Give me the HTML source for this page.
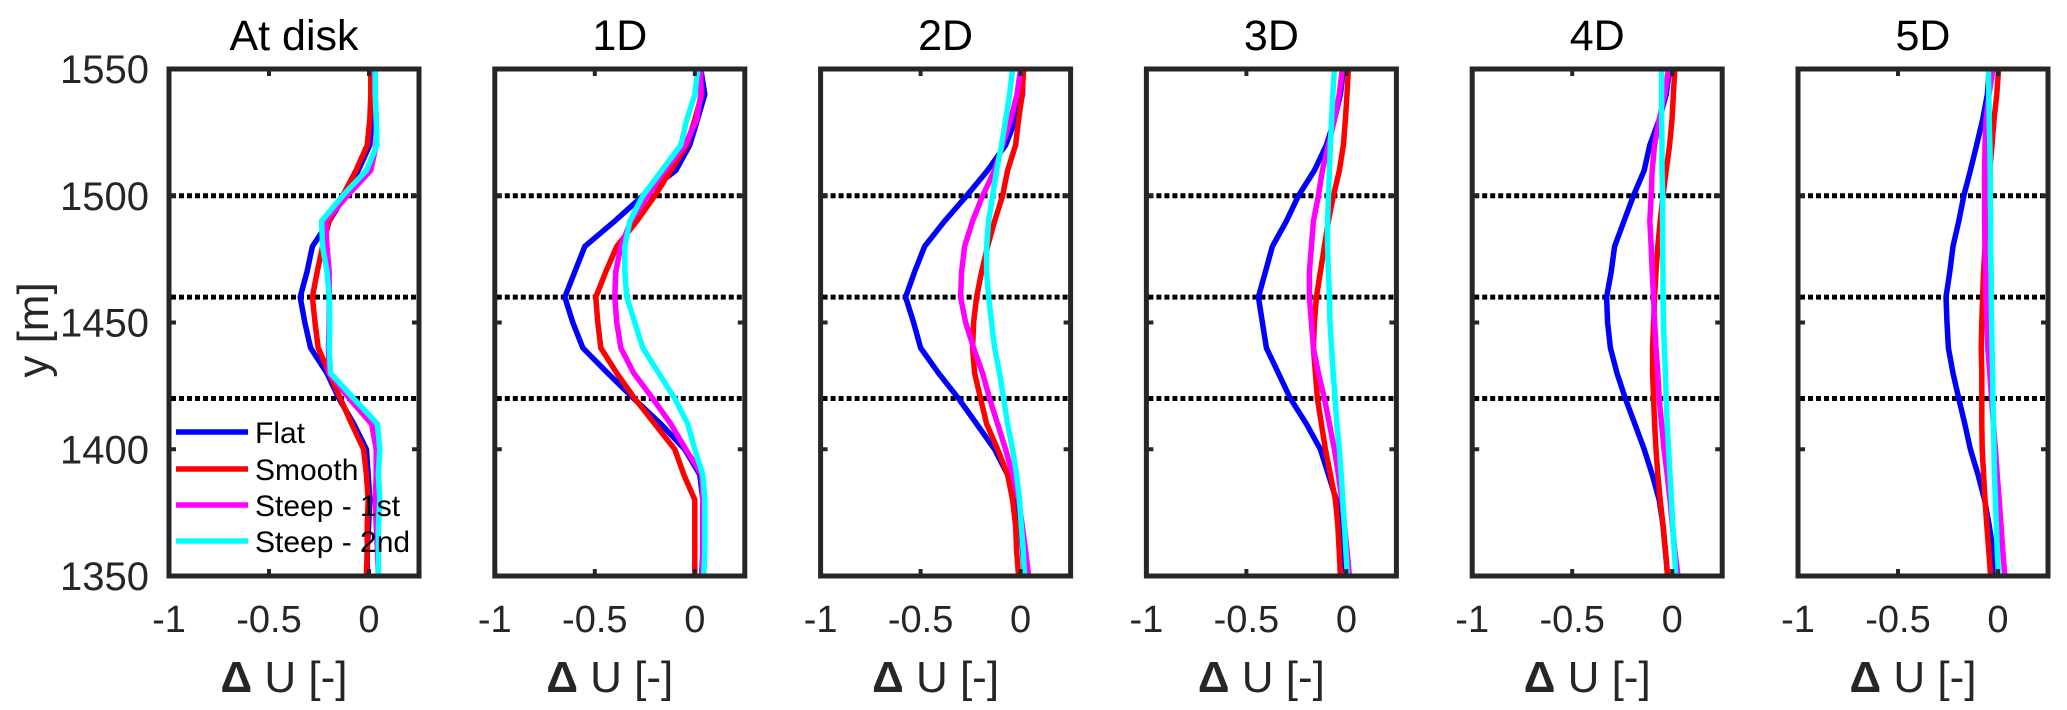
<!DOCTYPE html>
<html><head><meta charset="utf-8"><style>
html,body{margin:0;padding:0;background:#fff;}
svg{display:block;font-family:"Liberation Sans",sans-serif;}
</style></head><body>
<svg id="chart" width="2067" height="710" viewBox="0 0 2067 710" xmlns="http://www.w3.org/2000/svg"></svg>
<script>
const yLevels = [1550,1540,1530,1520,1510,1500,1490,1480,1470,1460,1450,1440,1430,1420,1410,1400,1390,1380,1370,1360,1350];
const panelTitles = ["At disk","1D","2D","3D","4D","5D"];
const seriesNames = ["Flat","Smooth","Steep - 1st","Steep - 2nd"];
const seriesColors = ["#0000ff","#ff0000","#ff00ff","#00ffff"];
const xTicks = [-1,-0.5,0];
const xTickLabels = ["-1","-0.5","0"];
const yTicks = [1350,1400,1450,1500,1550];
const yTickLabels = ["1350","1400","1450","1500","1550"];
const refLines = [1500,1460,1420];

const flat = [
 [0.013,0.013,0.013,0.004,-0.054,-0.121,-0.199,-0.283,-0.31,-0.344,-0.321,-0.292,-0.21,-0.15,-0.076,-0.013,-0.004,0.004,-0.002,-0.009,-0.009],
 [0.03,0.05,0.013,-0.025,-0.095,-0.26,-0.4,-0.55,-0.6,-0.65,-0.61,-0.56,-0.435,-0.305,-0.17,-0.05,0.025,0.04,0.04,0.04,0.035],
 [0.01,0.01,-0.025,-0.075,-0.165,-0.27,-0.38,-0.48,-0.53,-0.575,-0.535,-0.5,-0.41,-0.31,-0.22,-0.13,-0.065,-0.02,0,0.01,0.02],
 [-0.015,-0.03,-0.06,-0.1,-0.16,-0.24,-0.3,-0.37,-0.405,-0.44,-0.42,-0.4,-0.34,-0.28,-0.2,-0.13,-0.09,-0.05,-0.03,-0.015,0],
 [-0.013,-0.03,-0.065,-0.112,-0.14,-0.194,-0.241,-0.288,-0.305,-0.328,-0.323,-0.309,-0.276,-0.234,-0.187,-0.14,-0.1,-0.065,-0.046,-0.034,-0.023],
 [-0.044,-0.053,-0.077,-0.107,-0.138,-0.171,-0.196,-0.225,-0.241,-0.26,-0.255,-0.248,-0.225,-0.196,-0.166,-0.138,-0.1,-0.067,-0.044,-0.025,-0.013]
];
const smooth = [
 [0.009,0.009,0.004,-0.009,-0.065,-0.132,-0.199,-0.232,-0.259,-0.283,-0.27,-0.254,-0.199,-0.143,-0.087,-0.027,-0.013,-0.004,-0.009,-0.009,-0.013],
 [0.025,0.035,0,-0.04,-0.12,-0.2,-0.29,-0.39,-0.445,-0.495,-0.485,-0.47,-0.39,-0.3,-0.2,-0.1,-0.055,0,0,0,0],
 [0.015,0.008,-0.01,-0.025,-0.065,-0.09,-0.13,-0.165,-0.195,-0.22,-0.235,-0.24,-0.23,-0.2,-0.17,-0.115,-0.065,-0.04,-0.025,-0.02,-0.01],
 [0.01,0.003,-0.005,-0.015,-0.035,-0.065,-0.09,-0.11,-0.13,-0.15,-0.16,-0.165,-0.155,-0.145,-0.125,-0.105,-0.08,-0.055,-0.043,-0.036,-0.03],
 [0.013,0.006,-0.001,-0.013,-0.03,-0.046,-0.06,-0.072,-0.081,-0.088,-0.093,-0.098,-0.098,-0.093,-0.088,-0.081,-0.072,-0.06,-0.046,-0.034,-0.023],
 [0.003,-0.006,-0.02,-0.03,-0.041,-0.053,-0.06,-0.065,-0.072,-0.077,-0.081,-0.084,-0.081,-0.081,-0.081,-0.079,-0.072,-0.065,-0.056,-0.046,-0.037]
];
const steep1 = [
 [0.027,0.031,0.036,0.036,0.009,-0.109,-0.217,-0.21,-0.199,-0.199,-0.199,-0.203,-0.199,-0.098,0.013,0.036,0.036,0.031,0.036,0.042,0.047],
 [0.03,0.03,0.01,-0.05,-0.15,-0.235,-0.32,-0.37,-0.395,-0.4,-0.39,-0.37,-0.305,-0.21,-0.12,-0.045,0.035,0.04,0.04,0.04,0.04],
 [0,-0.018,-0.05,-0.09,-0.13,-0.19,-0.24,-0.28,-0.295,-0.3,-0.275,-0.235,-0.19,-0.155,-0.115,-0.075,-0.04,-0.01,0.008,0.025,0.04],
 [-0.02,-0.036,-0.06,-0.09,-0.12,-0.14,-0.165,-0.175,-0.185,-0.185,-0.175,-0.165,-0.14,-0.11,-0.085,-0.06,-0.04,-0.023,-0.01,0.003,0.015],
 [-0.018,-0.037,-0.065,-0.088,-0.1,-0.105,-0.112,-0.105,-0.1,-0.093,-0.088,-0.081,-0.072,-0.065,-0.053,-0.041,-0.025,-0.011,0.001,0.013,0.029],
 [-0.025,-0.045,-0.06,-0.065,-0.067,-0.067,-0.067,-0.065,-0.062,-0.06,-0.055,-0.051,-0.041,-0.032,-0.023,-0.013,-0.004,0.006,0.015,0.024,0.034]
];
const steep2 = [
 [0.031,0.031,0.036,0.04,-0.013,-0.132,-0.237,-0.232,-0.21,-0.199,-0.196,-0.199,-0.192,-0.076,0.042,0.054,0.047,0.054,0.047,0.047,0.047],
 [0.015,0,-0.04,-0.07,-0.165,-0.26,-0.325,-0.35,-0.35,-0.34,-0.3,-0.26,-0.18,-0.1,-0.035,0,0.04,0.05,0.05,0.05,0.045],
 [-0.04,-0.055,-0.075,-0.095,-0.12,-0.14,-0.16,-0.17,-0.17,-0.16,-0.145,-0.13,-0.105,-0.085,-0.065,-0.04,-0.02,-0.005,0.003,0.013,0.02],
 [-0.06,-0.068,-0.074,-0.08,-0.085,-0.09,-0.094,-0.094,-0.09,-0.085,-0.082,-0.074,-0.066,-0.056,-0.048,-0.035,-0.026,-0.018,-0.01,-0.003,0.005],
 [-0.053,-0.053,-0.053,-0.051,-0.051,-0.048,-0.048,-0.048,-0.046,-0.046,-0.044,-0.039,-0.034,-0.03,-0.025,-0.018,-0.011,-0.004,0.003,0.01,0.018],
 [-0.048,-0.046,-0.044,-0.041,-0.039,-0.039,-0.037,-0.037,-0.034,-0.034,-0.032,-0.03,-0.027,-0.025,-0.023,-0.02,-0.018,-0.013,-0.008,-0.004,0.003]
];
const allSeries = [flat, smooth, steep1, steep2];

const NS = "http://www.w3.org/2000/svg";
const svg = document.getElementById("chart");
const PANEL_LEFT0 = 169, PANEL_STEP = 325.8, PANEL_W = 250, TOP = 69, BOTTOM = 576;
const XMIN = -1, XMAX = 0.25, YMIN = 1350, YMAX = 1550;
function mk(tag, attrs, parent){ const e=document.createElementNS(NS,tag); for(const k in attrs) e.setAttribute(k,attrs[k]); (parent||svg).appendChild(e); return e; }
function yPos(v){ return BOTTOM - (v - YMIN)/(YMAX - YMIN)*(BOTTOM - TOP); }

panelTitles.forEach((title, p) => {
  const left = PANEL_LEFT0 + p*PANEL_STEP, right = left + PANEL_W;
  const xPos = v => left + (v - XMIN)/(XMAX - XMIN)*PANEL_W;
  const g = mk("g", {});
  
  

  const t = mk("text", {x:(left+right)/2, y:50, "font-size":43, "text-anchor":"middle", fill:"#000"}, g);
  t.textContent = title;
  
  

  refLines.forEach(r => {
    const l = mk("line", {x1:left+2, x2:right-2, y1:yPos(r), y2:yPos(r), stroke:"#000", "stroke-width":5, "stroke-dasharray":"5 3"}, g);
    
    
  });

  allSeries.forEach((s, si) => {
    const pts = s[p].map((v,i) => xPos(v).toFixed(1)+","+yPos(yLevels[i]).toFixed(1)).join(" ");
    const pl = mk("polyline", {points:pts, fill:"none", stroke:seriesColors[si], "stroke-width":5.5, "stroke-linejoin":"miter"}, g);
    
    
  });

  const box = mk("rect", {x:left, y:TOP, width:PANEL_W, height:BOTTOM-TOP, fill:"none", stroke:"#262626", "stroke-width":5}, g);
  
  

  xTicks.forEach((v,i) => {
    const x = xPos(v);
    mk("line", {x1:x,x2:x,y1:TOP,y2:TOP+7,stroke:"#262626","stroke-width":4}, g);
    mk("line", {x1:x,x2:x,y1:BOTTOM,y2:BOTTOM-7,stroke:"#262626","stroke-width":4}, g);
    const tl = mk("text", {x:x, y:632, "font-size":38, "text-anchor":"middle", fill:"#262626"}, g);
    tl.textContent = xTickLabels[i];
    
    
  });
  yTicks.forEach((v,i) => {
    const y = yPos(v);
    mk("line", {x1:left,x2:left+7,y1:y,y2:y,stroke:"#262626","stroke-width":4}, g);
    mk("line", {x1:right,x2:right-7,y1:y,y2:y,stroke:"#262626","stroke-width":4}, g);
    if (p === 0) {
      const yl = mk("text", {x:149, y:y+14, "font-size":40, "text-anchor":"end", fill:"#262626"}, g);
      yl.textContent = yTickLabels[i];
      
      
    }
  });

  const xl = mk("text", {x:(left+right)/2 - 10, y:692, "font-size":44, "text-anchor":"middle", fill:"#262626"}, g);
  xl.innerHTML = '<tspan font-weight="bold">Δ</tspan> U [-]';
  
  
});

const yt = mk("text", {x:0, y:0, "font-size":44, "text-anchor":"middle", fill:"#262626", transform:"translate(48,330) rotate(-90)"});
yt.textContent = "y [m]";



const legendY = [432,469,505,541];
const lg = mk("g", {});


seriesNames.forEach((n,i) => {
  const le = mk("g", {}, lg);
  
  
  mk("line", {x1:176, x2:248, y1:legendY[i], y2:legendY[i], stroke:seriesColors[i], "stroke-width":5.5}, le);
  const tx = mk("text", {x:255, y:legendY[i]+11, "font-size":30, fill:"#000"}, le);
  tx.textContent = n;
});
</script>
</body></html>
